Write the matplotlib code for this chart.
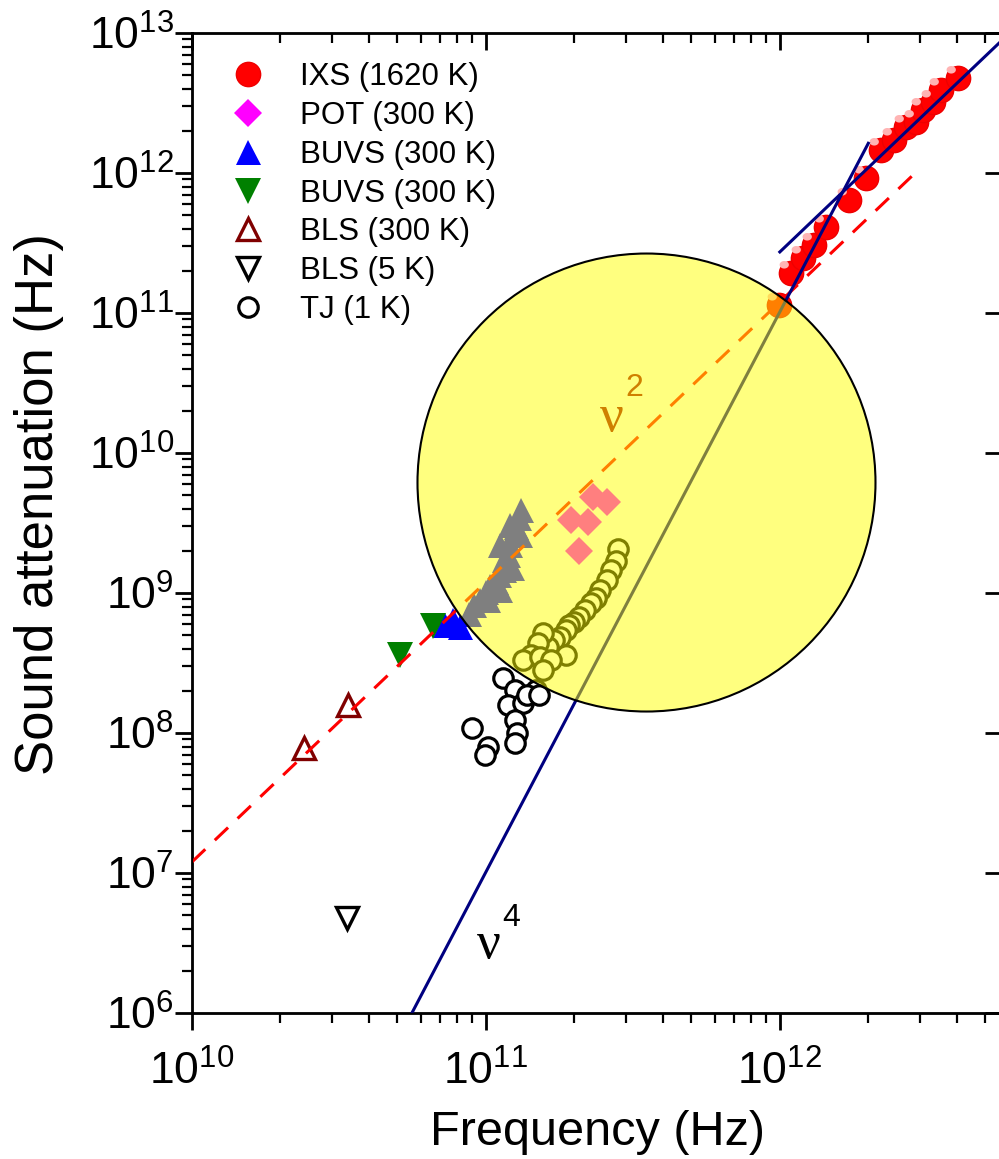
import numpy as np
import matplotlib
matplotlib.use("Agg")
import matplotlib.pyplot as plt
from matplotlib.patches import Ellipse
from matplotlib.path import Path
from matplotlib.ticker import LogLocator, NullFormatter, FuncFormatter, NullLocator

plt.rcParams['font.family'] = ['Liberation Sans', 'DejaVu Sans']

# data
ixs_freq = [0.99e12, 1.09e12, 1.20e12, 1.31e12, 1.44e12, 1.72e12, 1.96e12, 2.21e12,
            2.44e12, 2.69e12, 2.90e12, 3.07e12, 3.32e12, 3.54e12, 4.04e12]
ixs_att = [1.14e11, 1.93e11, 2.47e11, 3.06e11, 4.1e11, 6.4e11, 9.2e11, 1.46e12,
           1.72e12, 2.13e12, 2.31e12, 2.82e12, 3.21e12, 3.92e12, 4.77e12]

pot_freq = [1.94e11, 2.22e11, 2.32e11, 2.59e11, 2.07e11]
pot_att = [3.3e9, 3.2e9, 4.85e9, 4.47e9, 2.0e9]

buvs_up_freq = [7.28e10, 7.74e10, 8.18e10, 8.79e10, 9.14e10, 9.58e10, 1.004e11, 1.036e11,
                1.086e11, 1.11e11, 1.156e11, 1.148e11, 1.19e11, 1.21e11, 1.24e11, 1.27e11,
                1.30e11, 1.32e11, 1.23e11, 1.12e11, 1.02e11, 1.31e11, 1.12e11, 1.21e11]
buvs_up_att = [5.9e8, 6.41e8, 5.71e8, 7.08e8, 8.2e8, 8.91e8, 1.02e9, 1.12e9,
               1.2e9, 1.35e9, 1.46e9, 1.72e9, 1.87e9, 2.2e9, 2.6e9, 2.96e9,
               3.43e9, 3.92e9, 1.51e9, 1.05e9, 8.9e8, 2.6e9, 2.2e9, 3.06e9]

buvs_down_freq = [5.1e10, 6.62e10]
buvs_down_att = [3.6e8, 5.8e8]

bls300_freq = [2.41e10, 3.40e10]
bls300_att = [7.8e7, 1.58e8]

bls5_freq = [3.37e10]
bls5_att = [4.8e6]

tj_freq = [1.147e11, 1.26e11, 1.19e11, 1.34e11, 1.475e11, 1.385e11, 1.26e11, 1.28e11,
           1.26e11, 9.0e10, 1.02e11, 9.95e10, 1.51e11,
           2.81e11, 2.78e11, 2.66e11, 2.59e11, 2.45e11, 2.36e11, 2.27e11, 2.18e11,
           2.07e11, 1.99e11, 1.91e11, 1.87e11, 1.79e11, 1.70e11, 1.87e11, 1.63e11,
           1.57e11, 1.50e11, 1.42e11, 1.34e11, 1.53e11, 1.66e11, 1.57e11]
tj_att = [2.47e8, 2.03e8, 1.585e8, 1.64e8, 2.03e8, 1.87e8, 1.24e8, 1.0e8,
          8.5e7, 1.09e8, 7.95e7, 6.97e7, 1.87e8,
          2.06e9, 1.69e9, 1.46e9, 1.24e9, 1.05e9, 9.2e8, 8.5e8, 7.57e8,
          6.74e8, 6.21e8, 5.9e8, 5.44e8, 4.85e8, 4.62e8, 3.61e8, 4.11e8,
          5.18e8, 4.4e8, 3.61e8, 3.32e8, 3.49e8, 3.32e8, 2.82e8]

# guide lines (end points)
nu2_freq = [1e10, 3e12]
nu2_att = [1.2e7, 1.08e12]
nu4_freq = [5.6e10, 2.0e12]
nu4_att = [1e6, 1.63e12]
ixsfit_freq = [1e12, 6e12]
ixsfit_att = [2.73e11, 9.83e12]

fig = plt.figure(figsize=(9.99, 11.59), dpi=100)
ax = fig.add_axes([192/999, 146/1159, 810/999, 980/1159])
ax.set_xscale('log')
ax.set_yscale('log')
ax.set_xlim(1e10, 5.7e12)
ax.set_ylim(1e6, 1e13)

# sphere look for IXS: small highlight marker, offset inside the ball
t = np.linspace(0, 2*np.pi, 40)
hl_path = Path(np.column_stack([-0.25 + 0.16*np.cos(t), 0.3 + 0.13*np.sin(t)]))

l_ixs, = ax.plot(ixs_freq, ixs_att, 'o', ms=17.5, mfc='#FF0000', mec='#EE0000', mew=1, zorder=2)
ax.plot(ixs_freq, ixs_att, ls='none', marker=hl_path, ms=18, mfc='#FFB4B4', mec='none', zorder=2)
l_pot, = ax.plot(pot_freq, pot_att, 'D', ms=14.5, mfc='#FF00FF', mec='#FF00FF', mew=0, zorder=2)
l_bu, = ax.plot(buvs_up_freq, buvs_up_att, '^', ms=18, mfc='#0000FF', mec='#0000FF', mew=0, zorder=2)
l_bd, = ax.plot(buvs_down_freq, buvs_down_att, 'v', ms=19, mfc='#008000', mec='#008000', mew=0, zorder=2)
l_b3, = ax.plot(bls300_freq, bls300_att, '^', ms=16, mfc='none', mec='#800000', mew=2.4, zorder=2)
l_b5, = ax.plot(bls5_freq, bls5_att, 'v', ms=16, mfc='none', mec='black', mew=2.4, zorder=2)
l_tj, = ax.plot(tj_freq, tj_att, 'o', ms=14, mfc='white', mec='black', mew=2.3, zorder=2)

ax.plot(nu2_freq, nu2_att, color='#FF0000', lw=2.2, dashes=(6, 4.3), zorder=3)
ax.plot(nu4_freq, nu4_att, color='#000080', lw=2.2, zorder=3)
ax.plot(ixsfit_freq, ixsfit_att, color='#000080', lw=2.2, zorder=3)

# labels on the guide lines
ax.text(0.5185, 0.6071, 'ν', transform=ax.transAxes, fontsize=38, family='Liberation Serif',
        color='#A00000', ha='center', va='center', zorder=4)
ax.text(0.5457, 0.6378, '2', transform=ax.transAxes, fontsize=23, color='#A00000',
        ha='center', va='center', zorder=4)
ax.text(0.3667, 0.0694, 'ν', transform=ax.transAxes, fontsize=38, family='Liberation Serif',
        color='black', ha='center', va='center', zorder=4)
ax.text(0.3938, 0.0969, '4', transform=ax.transAxes, fontsize=23, color='black',
        ha='center', va='center', zorder=4)

# yellow highlight circle, round in pixels
ax.add_patch(Ellipse((0.5611, 0.5413), 458/810, 458/980, transform=ax.transAxes,
                     facecolor=(1, 1, 0, 0.5), edgecolor='black', lw=1.5, zorder=10))

fmt = FuncFormatter(lambda v, p: r'$\mathregular{10^{%d}}$' % round(np.log10(v)))
for a in (ax.xaxis, ax.yaxis):
    a.set_major_locator(LogLocator(base=10, numticks=20))
    a.set_minor_locator(LogLocator(base=10, subs=np.arange(2, 10), numticks=100))
    a.set_major_formatter(fmt)
    a.set_minor_formatter(NullFormatter())
ax.tick_params(which='major', direction='out', length=12, width=2, labelsize=32)
ax.tick_params(which='minor', direction='out', length=7, width=1.6)
ax.tick_params(axis='x', pad=15)
ax.tick_params(axis='y', pad=1)
for s in ax.spines.values():
    s.set_linewidth(2)

# top and right: inward ticks, no labels
axt = ax.twiny()
axt.set_xscale('log')
axt.set_xlim(ax.get_xlim())
axr = ax.twinx()
axr.set_yscale('log')
axr.set_ylim(ax.get_ylim())
axt.xaxis.set_minor_locator(LogLocator(base=10, subs=np.arange(2, 10), numticks=100))
axr.yaxis.set_minor_locator(NullLocator())
for a in (axt, axr):
    a.tick_params(which='major', direction='in', length=12, width=2,
                  labeltop=False, labelright=False, labelbottom=False, labelleft=False)
    a.tick_params(which='minor', direction='in', length=7, width=1.6)

ax.set_xlabel('Frequency (Hz)', fontsize=35, labelpad=12)
ax.set_ylabel('Sound attenuation (Hz)', fontsize=38, labelpad=18)
ax.yaxis.label.set_y(0.519)

leg = ax.legend([l_ixs, l_pot, l_bu, l_bd, l_b3, l_b5, l_tj],
                ['IXS (1620 K)', 'POT (300 K)', 'BUVS (300 K)', 'BUVS (300 K)',
                 'BLS (300 K)', 'BLS (5 K)', 'TJ (1 K)'],
                loc='upper left', bbox_to_anchor=(0.0499, 0.970), frameon=False,
                fontsize=22.5, borderaxespad=0, borderpad=0, handlelength=1.0,
                handletextpad=1.15, labelspacing=0.28, markerscale=1.0)
leg.set_zorder(20)

fig.savefig('out.png', dpi=100)
